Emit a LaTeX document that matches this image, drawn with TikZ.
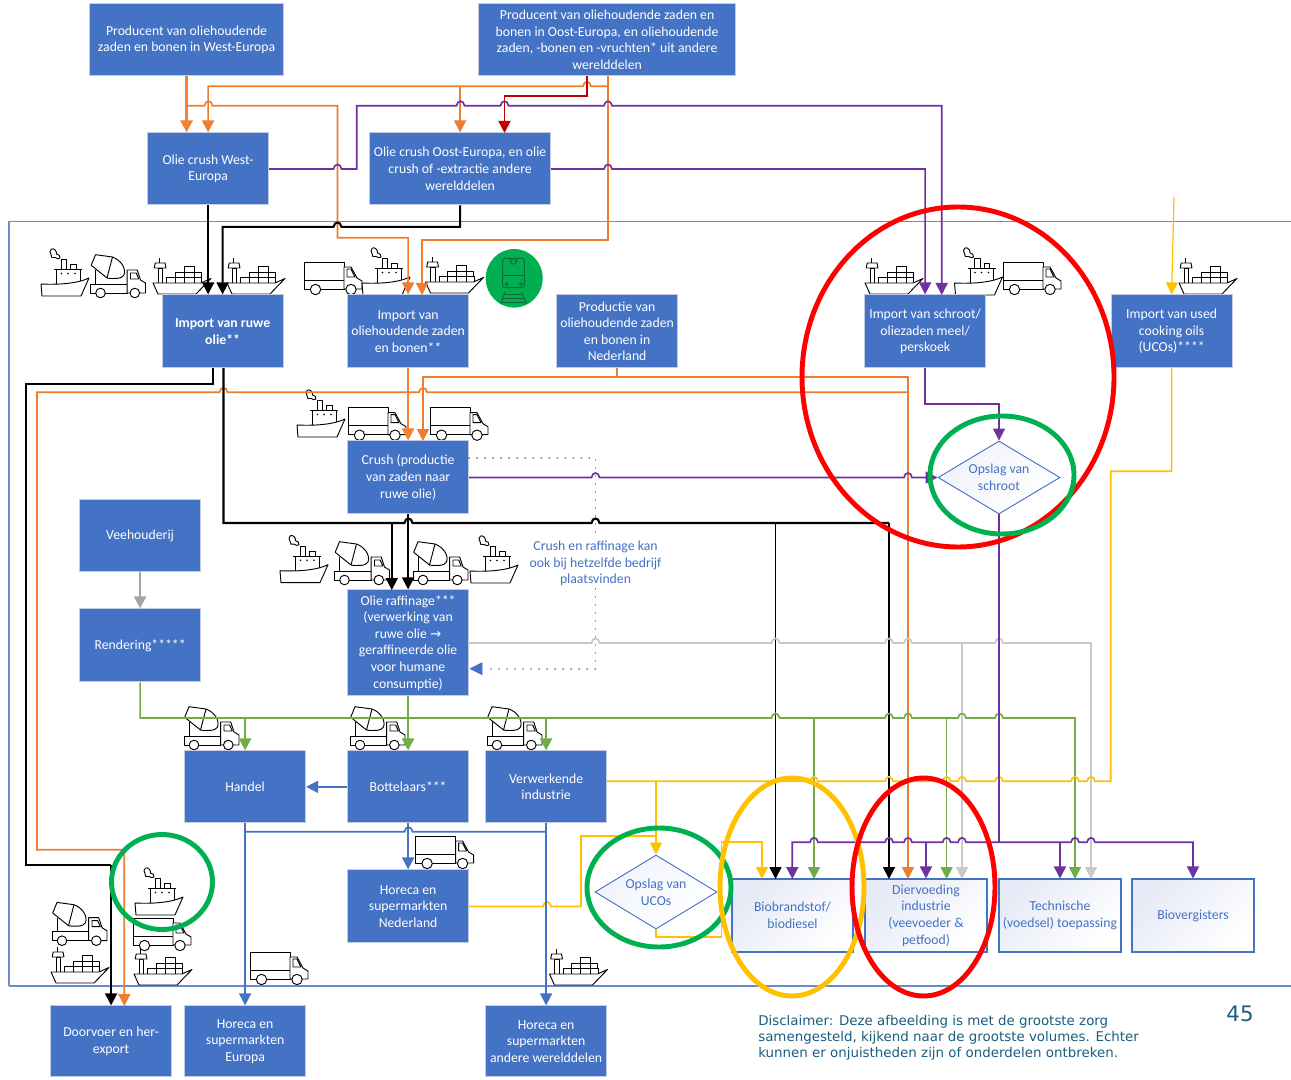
\documentclass[tikz,border=0pt]{standalone}
\usepackage{fontspec}
\setmainfont{Carlito}
\newfontfamily\djv{DejaVu Sans}
\usetikzlibrary{arrows.meta,shapes.geometric}
\definecolor{cblue}{HTML}{4472C4}
\definecolor{cedge}{HTML}{C3CDE2}
\definecolor{corg}{HTML}{ED7D31}
\definecolor{corgh}{HTML}{F4812F}
\definecolor{cpur}{HTML}{7030A0}
\definecolor{cred}{HTML}{C00000}
\definecolor{cgrn}{HTML}{70AD47}
\definecolor{cgry}{HTML}{C9C9C9}
\definecolor{cgryd}{HTML}{A5A5A5}
\definecolor{cyel}{HTML}{FFC000}
\definecolor{cring}{HTML}{00B050}
\definecolor{crr}{HTML}{FF0000}
\definecolor{cteal}{HTML}{1B5E7E}
\definecolor{cframe}{HTML}{6A8CCB}
\definecolor{clight}{HTML}{E6EAF6}
\definecolor{clightd}{HTML}{F0F3FA}
\definecolor{ctrain}{HTML}{0C6B38}
\tikzset{
  sz/.style 2 args={minimum width=#1*0.75pt,minimum height=#2*0.75pt},
  bbox/.style={draw=cedge,line width=0.7pt,fill=cblue,text=white,align=center,inner sep=0pt,
    xshift=-0.3pt,yshift=0.1pt,font=\fontsize{10.3}{12.45}\selectfont},
  lbox/.style={draw=cblue,line width=0.8pt,left color=clight,right color=white,shading angle=45,
    text=cblue,align=center,inner sep=0pt,font=\fontsize{10.3}{12.45}\selectfont},
  dbox/.style={shape=diamond,draw=cblue,line width=0.7pt,left color=clightd,right color=white,shading angle=45,
    text=cblue,align=center,inner sep=0pt,aspect=1.67,font=\fontsize{10.3}{12.45}\selectfont},
  arr/.style={-{Triangle[length=9pt,width=9pt]}},
  ic/.style={line width=0.7pt,draw=black,fill=white,line join=round},
  ln/.style={line width=1.25pt},
  lnb/.style={line width=1.9pt},
  ring/.style={line width=3.7pt},
}
\newcommand{\hr}[2]{-- (#1-4,#2) .. controls (#1-3.2,#2-6) and (#1+3.2,#2-6) .. (#1+4,#2)}
\newcommand{\hl}[2]{-- (#1+4,#2) .. controls (#1+3.2,#2-6) and (#1-3.2,#2-6) .. (#1-4,#2)}
\newcommand{\iTug}[2]{\begin{scope}[shift={(#1,#2)},yscale=-1]
  \draw[ic] (20,26) rectangle (25.5,36.5);
  \draw[ic] (29.6,26) rectangle (35.4,31.5);
  \draw[ic] (15.6,10) rectangle (39,26.7);
  \draw[ic] (13,26.7) -- (41,26.7);
  \fill (20.5,22.5) circle (0.9) (27,22.5) circle (0.9) (34,22.5) circle (0.9);
  \draw[ic] (1,0) -- (0,12) .. controls (20,11) and (38,13) .. (48,18) -- (40,0) -- cycle;
  \draw[ic,fill=none] (19,38) .. controls (20,41) and (17,41) .. (15.5,42) .. controls (16,45) and (13,48) .. (10.5,47) .. controls (8,46) and (9,43) .. (10,41.5) .. controls (9,39) and (12,37) .. (14,38.5) .. controls (16,37) and (18,37) .. (19,38) -- cycle;
  \end{scope}}
\newcommand{\iMix}[2]{\begin{scope}[shift={(#1,#2)},yscale=-1]
  \draw[ic,fill=none] (5,28) -- (5,14);
  \draw[ic] (0,5) -- (0,14) -- (36.7,14) -- (36.7,5) -- cycle;
  \draw[ic] (36.7,5) -- (36.7,28) -- (46.7,28) -- (50,18) -- (55,15) -- (55,5) -- cycle;
  \draw[ic] (40,25) -- (45.7,25) -- (48.3,19) -- (40,19) -- cycle;
  \draw[ic] (0.7,32.7) -- (5,43.3) -- (22,41) .. controls (30,38) and (36,30) .. (33.5,23) .. controls (32,19) and (22,19) .. (16.5,20) -- cycle;
  \draw[ic] (22,41) -- (16.5,20);
  \draw[ic] (10,5) circle (4.8) (44.3,5) circle (4.8);
  \end{scope}}
\newcommand{\iVan}[2]{\begin{scope}[shift={(#1,#2)},yscale=-1]
  \draw[ic] (0,6) rectangle (40,33);
  \draw[ic] (0,15) -- (40,15);
  \draw[ic] (40,6) -- (40,28) -- (47,28) -- (53,17) -- (58,14) -- (58,6) -- cycle;
  \draw[ic] (43,26) -- (47,26) -- (51,18) -- (43,18) -- cycle;
  \draw[ic] (11.5,5.5) circle (5.2) (47,5.5) circle (5.2);
  \end{scope}}
\newcommand{\iCon}[2]{\begin{scope}[shift={(#1,#2)},yscale=-1]
  \draw[ic] (5.3,11) rectangle (9.5,26);
  \draw[ic] (1.2,26) -- (13,26) -- (12,31) -- (2.2,31) -- cycle;
  \draw[ic] (6.5,31) -- (6.5,36);
  \draw[ic] (13.5,11) rectangle (48.5,17);
  \draw[ic] (22,17) rectangle (48,22);
  \draw[ic] (31,22) rectangle (41,28);
  \draw[ic] (22,11) -- (22,17) (31,11) -- (31,22) (41,11) -- (41,22);
  \draw[ic,fill=white] (0,11) -- (48,11) -- (58,15.5) -- (43,0) -- (5,0) -- cycle;
  \end{scope}}
\begin{document}
\begin{tikzpicture}[x=0.75pt,y=-0.75pt]
\useasboundingbox (0,0) rectangle (1291,1080);
\fill[white] (0,0) rectangle (1291,1080);
% frame
\draw[cframe,line width=0.8pt] (1291,221.5) -- (9,221.5) -- (9,986);
\draw[cframe,line width=1.3pt] (9,986) -- (1291,986);
% icons
\iTug{41}{296}\iMix{90.5}{298}\iCon{153}{294}\iCon{227}{294}
\iVan{304}{295}\iTug{362}{295}\iCon{425.5}{293}
\iCon{865}{294}\iTug{954.5}{295}\iVan{1003}{295}\iCon{1179}{294}
\iTug{297}{437}\iVan{348}{440.7}\iVan{430}{440.7}
\iTug{280}{582.7}\iMix{334.5}{585}\iMix{413}{585}\iTug{470}{583}
\iMix{184}{750}\iMix{350}{750}\iMix{487}{750}
\iVan{415.6}{869}
\iVan{133}{951}\iTug{135}{915}\iMix{52}{945.7}\iCon{51}{983}\iCon{134}{985}
\iVan{250}{985}\iCon{549.5}{985}
% train badge
\fill[cring] (514.2,278.3) ellipse (28.5 and 29.3);
\begin{scope}[draw=ctrain,line width=0.7pt]
  \draw[rounded corners=2] (502.7,258.3) rectangle (524.3,287.7);
  \draw (502.7,275.7) -- (524.3,275.7);
  \draw (510,260) -- (517,260) -- (515,264) -- (512,264) -- cycle;
  \draw (506.7,284.3) circle (1.5) (521,284.3) circle (1.5);
  \draw (505,291.7) -- (500.7,304.3) (521.7,291.7) -- (526.7,304.3);
  \draw (504,294.3) -- (523,294.3) (503,298.3) -- (524.5,298.3) (501.7,302.3) -- (526,302.3);
\end{scope}
% blue boxes
\node[bbox,sz={194}{72}] (PW) at (187,40) {Producent van oliehoudende\\zaden en bonen in West-Europa};
\node[bbox,sz={257}{72}] (PO) at (607.5,40) {Producent van oliehoudende zaden en\\bonen in Oost-Europa, en oliehoudende\\zaden, -bonen en -vruchten* uit andere\\werelddelen};
\node[bbox,sz={121}{72}] (OCW) at (208.5,169) {Olie crush West-\\Europa};
\node[bbox,sz={181}{72}] (OCO) at (460.5,169) {Olie crush Oost-Europa, en olie\\crush of -extractie andere\\werelddelen};
\node[bbox,sz={121}{73},font=\fontsize{10.3}{12.45}\selectfont\bfseries] (IRO) at (223,331.5) {Import van ruwe\\olie**};
\node[bbox,sz={121}{73}] (IOZ) at (408.5,331.5) {Import van\\oliehoudende zaden\\en bonen**};
\node[bbox,sz={121}{73}] (PROD) at (617.5,331.5) {Productie van\\oliehoudende zaden\\en bonen in\\Nederland};
\node[bbox,sz={121}{73}] (ISCH) at (925.5,331.5) {Import van schroot/\\oliezaden meel/\\perskoek};
\node[bbox,sz={121}{73}] (IUCO) at (1172,331.5) {Import van used\\cooking oils\\(UCOs)****};
\node[bbox,sz={121}{73}] (Crush) at (408.5,477.5) {Crush (productie\\van zaden naar\\ruwe olie)};
\node[bbox,sz={121}{72}] (Vee) at (140.5,536) {Veehouderij};
\node[bbox,sz={121}{73}] (Rend) at (140.5,645.5) {Rendering*****};
\node[bbox,sz={121}{106}] (Raff) at (408.5,643) {Olie raffinage***\\(verwerking van\\ruwe olie {\djv\fontsize{10}{12.45}\selectfont →}\\geraffineerde olie\\voor humane\\consumptie)};
\node[bbox,sz={121}{72}] (Handel) at (245.5,787) {Handel};
\node[bbox,sz={121}{72}] (Bott) at (408.5,787) {Bottelaars***};
\node[bbox,sz={121}{72}] (Verw) at (546.5,787) {Verwerkende\\industrie};
\node[bbox,sz={121}{73}] (HorNL) at (408.5,906.5) {Horeca en\\supermarkten\\Nederland};
\node[bbox,sz={121}{71}] (Door) at (111.5,1041.5) {Doorvoer en her-\\export};
\node[bbox,sz={121}{71}] (HorEU) at (245.5,1041.5) {Horeca en\\supermarkten\\Europa};
\node[bbox,sz={121}{71}] (HorW) at (546.5,1041.5) {Horeca en\\supermarkten\\andere werelddelen};
% light boxes
\node[lbox,sz={121}{73}] (Bio) at (792.5,915.5) {Biobrandstof/\\biodiesel};
\node[lbox,sz={122}{73}] (Dier) at (926,915.5) {Diervoeding\\industrie\\(veevoeder \&\\petfood)};
\node[lbox,sz={122}{73}] (Tech) at (1060,915.5) {Technische\\(voedsel) toepassing};
\node[lbox,sz={122}{73}] (Biov) at (1193,915.5) {Biovergisters};
\node[dbox,sz={122}{73}] (Schroot) at (999,477.5) {Opslag van\\schroot};
\node[dbox,sz={122}{74}] (UCO) at (656,892) {Opslag van\\UCOs};
\node[text=cblue,align=center,inner sep=2pt,font=\fontsize{10.3}{12.45}\selectfont] (Note) at (595.5,563.5) {Crush en raffinage kan\\ook bij hetzelfde bedrijf\\plaatsvinden};
\node[text=cteal,align=left,anchor=north west,inner sep=0pt,font=\djv\fontsize{10.05}{12}\selectfont] (Disc) at (758,1015.3) {Disclaimer: Deze afbeelding is met de grootste zorg\\samengesteld, kijkend naar de grootste volumes. Echter\\kunnen er onjuistheden zijn of onderdelen ontbreken.};
\node[text=cteal,inner sep=0pt,font=\djv\fontsize{16}{19}\selectfont] (Num) at (1240,1014) {45};
\coordinate (ucoin) at (1174,197);
% dotted
\begin{scope}[cblue,line width=1.3pt,line cap=round,dash pattern=on 0.01pt off 6pt]
  \draw (Crush.north east |- 0,458) -- (595.5,458) -- (Note.north);
  \draw (Note.south) -- (595.5,668.7) -- (486,668.7);
\end{scope}
\draw[cblue,fill=cblue] (Raff.east |- 0,668.7) ++(1,0) -- ++(12,-6) -- ++(0,12) -- cycle;
% orange
\draw[corgh,lnb,arr] (PW.south) -- (PW.south |- OCW.north);
\draw[corg,ln,arr] (187,105.7) \hr{208.5}{105.7} -- (337.5,105.7) -- (337.5,237.7) -- (IOZ.north |- 0,237.7) -- (IOZ.north);
\draw[corg,ln,arr] (608,76) -- (608,86.3) \hl{587}{86.3} -- (OCW.north |- 0,86.3) -- (OCW.north);
\draw[corg,ln,arr] (OCO.north |- 0,86.3) -- (OCO.north);
\draw[corg,ln,arr] (608,86.3) -- (608,240) -- (422,240) -- (422,295);
\draw[corgh,lnb,arr] (IOZ.south) -- (Crush.north);
\draw[corg,ln,arr] (PROD.south) -- (PROD.south |- 0,376.7) -- (423,376.7) -- (423,441);
\draw[corg,ln] (PROD.south |- 0,376.7) -- (908,376.7) -- (908,392.3);
\draw[corg,line width=1.5pt,arr] (908,392.3) -- (908,879);
\draw[corg,ln,arr] (908,392.3) \hl{423}{392.3} \hl{223.5}{392.3} -- (37,392.3) -- (37,849.7) -- (124.3,849.7) -- (124.3,1006);
% red
\draw[cred,ln,arr] (587,76) -- (587,95.7) -- (504.5,95.7) -- (504.5,133);
% purple top
\draw[cpur,ln,arr] (OCW.east |- 0,169) \hr{337.5}{169} -- (356.8,169) -- (356.8,105.7) \hr{460.5}{105.7} \hr{504.5}{105.7} \hr{608}{105.7} -- (941.7,105.7) -- (941.7,295);
\draw[cpur,ln,arr] (OCO.east |- 0,169) \hr{608}{169} -- (ISCH.north |- 0,169) -- (ISCH.north);
% black
\draw[black,line width=1.5pt,arr] (OCW.south) -- (OCW.south |- IRO.north);
\draw[black,line width=1.5pt,arr] (OCO.south) -- (OCO.south |- 0,227) \hl{337.5}{227} -- (IRO.north |- 0,227) -- (IRO.north);
\draw[black,line width=1.5pt] (213,368) -- (213,383.7) -- (26.3,383.7) -- (26.3,864.7) -- (Door.north |- 0,864.7);
\draw[black,ln,arr] (Door.north |- 0,864.7) -- (Door.north);
\draw[black,line width=1.6pt] (223.5,368) -- (223.5,523) \hr{408.5}{523} \hr{595.5}{523} -- (889,523);
\draw[black,line width=1.4pt,arr] (889,523) -- (889,879);
\draw[black,ln,arr] (775.5,523) -- (775.5,879);
\draw[black,ln,arr] (391.8,523) -- (391.8,590);
\draw[black,line width=1.4pt,arr] (Crush.south) -- (Raff.north);
% gray
\draw[cgryd,lnb,arr] (Vee.south) -- (Rend.north);
\draw[cgry,ln,arr] (Raff.east |- 0,643) \hr{595.5}{643} \hr{775.5}{643} \hr{889}{643} \hr{908}{643} \hr{999}{643} -- (1091,643) -- (1091,879);
\draw[cgry,ln,arr] (962,643) -- (962,879);
% green
\draw[cgrn,ln,arr] (Rend.south) -- (Rend.south |- 0,718) \hr{775.5}{718} \hr{889}{718} \hr{908}{718} \hr{962}{718} \hr{999}{718} -- (1075,718) -- (1075,879);
\draw[cgrn,ln,arr] (Handel.north |- 0,718) -- (Handel.north);
\draw[cgrn,lnb,arr] (Raff.south) -- (Bott.north);
\draw[cgrn,ln,arr] (Verw.north |- 0,718) -- (Verw.north);
\draw[cgrn,ln,arr] (814,718) -- (814,879);
\draw[cgrn,ln,arr] (946.6,718) -- (946.6,879);
% yellow
\draw[cyel,ln] (IUCO.south) -- (IUCO.south |- 0,471.3) -- (1110.8,471.3) -- (1110.8,781.3) \hl{1091}{781.3} \hl{1075}{781.3} \hl{999}{781.3} \hl{962}{781.3} \hl{946.6}{781.3} \hl{889}{781.3} \hl{814}{781.3} -- (Verw.east |- 0,781.3);
\draw[cyel,ln,arr] (UCO.north |- 0,781.3) -- (UCO.north);
\draw[cyel,line width=0.9pt,arr] (ucoin) -- (IUCO.north);
\draw[cyel,ln] (HorNL.east |- 0,906.5) \hr{547}{906.5} -- (581,906.5) -- (581,836) -- (UCO.north |- 0,836);
\draw[cyel,ln,arr] (UCO.south) -- (UCO.south |- 0,937.3) -- (721.5,937.3) -- (721.5,842.3) -- (762,842.3) -- (762,879);
% purple lower
\draw[cpur,ln,arr] (ISCH.south) -- (ISCH.south |- 0,404.3) -- (Schroot.north |- 0,404.3) -- (Schroot.north);
\draw[cpur,ln,arr] (Crush.east |- Schroot.west) \hr{595.5}{477.5} \hr{908}{477.5} -- (Schroot.west);
\draw[cpur,line width=1.4pt] (Schroot.south) -- (Schroot.south |- 0,842.3);
\draw[cpur,ln,arr] (999,842.3) \hl{962}{842.3} \hl{946.6}{842.3} \hl{908}{842.3} \hl{889}{842.3} \hl{814}{842.3} -- (792.3,842.3) -- (792.3,879);
\draw[cpur,ln,arr] (Dier.north |- 0,842.3) -- (Dier.north);
\draw[cpur,ln,arr] (999,842.3) \hr{1075}{842.3} \hr{1091}{842.3} -- (Biov.north |- 0,842.3) -- (Biov.north);
\draw[cpur,ln,arr] (Tech.north |- 0,842.3) -- (Tech.north);
% blue
\draw[cblue,ln,arr] (Bott.west) -- (Handel.east);
\draw[cblue,ln,arr] (Handel.south) -- (HorEU.north);
\draw[cblue,ln] (Handel.south |- 0,831.7) \hr{408.5}{831.7} -- (Verw.south |- 0,831.7);
\draw[cblue,ln,arr] (Bott.south) -- (HorNL.north);
\draw[cblue,ln,arr] (Verw.south) -- (HorW.north);
% rings
\draw[crr,ring] (958,377) ellipse (156 and 170);
\draw[cring,ring] (1002,475) ellipse (72 and 59);
\draw[cring,ring] (162,882) ellipse (50.5 and 47.5);
\draw[cring,ring] (659,887.5) ellipse (72 and 59.5);
\draw[cyel,ring] (792,887) ellipse (72 and 109);
\draw[crr,ring] (923.5,887) ellipse (71.5 and 109);
\end{tikzpicture}
\end{document}
